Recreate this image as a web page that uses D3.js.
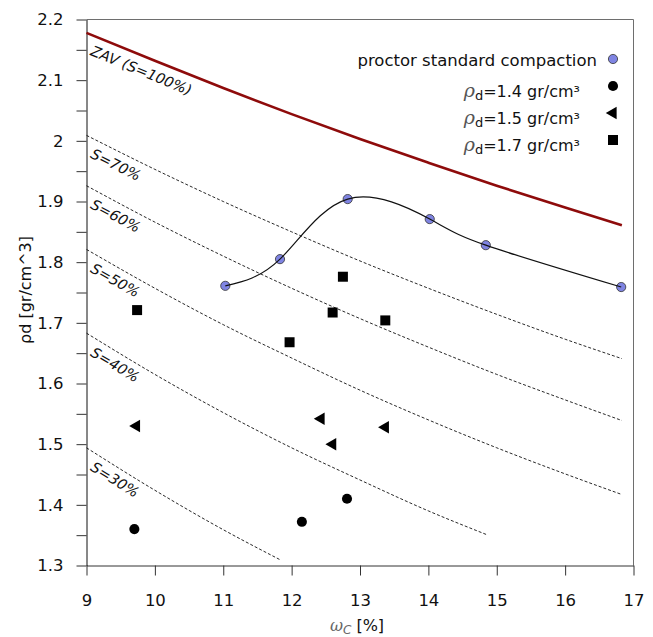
<!DOCTYPE html>
<html>
<head>
<meta charset="utf-8">
<script src="https://cdn.jsdelivr.net/npm/d3@7/dist/d3.min.js"></script>
<style>
  body { margin: 0; background: #fff; }
  svg { display: block; }
</style>
</head>
<body>
<div id="chart"></div>
<script>
// proctor standard compaction
const proctorW = [11.03, 11.83, 12.82, 14.02, 14.84, 16.82];
const proctorRho = [1.761, 1.805, 1.904, 1.871, 1.828, 1.759];

// samples compacted to a target dry density
const rho14W = [9.70, 12.15, 12.81];
const rho14 = [1.360, 1.372, 1.410];
const rho15W = [9.73, 12.43, 12.60, 13.37];
const rho15 = [1.530, 1.542, 1.500, 1.528];
const rho17W = [9.74, 11.97, 12.60, 12.75, 13.37];
const rho17 = [1.721, 1.668, 1.717, 1.776, 1.704];

// saturation lines
const satW = [9, 10, 11, 12, 13, 14, 15, 16, 16.83];
const zavRho = [2.178, 2.132, 2.087, 2.044, 2.003, 1.964, 1.926, 1.890, 1.861];
const s70Rho = [2.009, 1.953, 1.900, 1.850, 1.802, 1.757, 1.714, 1.673, 1.641];
const s60Rho = [1.926, 1.866, 1.810, 1.757, 1.707, 1.660, 1.615, 1.573, 1.539];
const s50Rho = [1.821, 1.757, 1.697, 1.642, 1.589, 1.540, 1.494, 1.451, 1.417];
const s40W = [9, 10, 11, 12, 13, 14, 14.85];
const s40Rho = [1.683, 1.615, 1.552, 1.494, 1.441, 1.390, 1.351];
const s30W = [9, 10, 11, 11.84];
const s30Rho = [1.494, 1.424, 1.359, 1.309];
const satLabels = ['ZAV (S=100%)', 'S=70%', 'S=60%', 'S=50%', 'S=40%', 'S=30%'];

const legendRho = ['1.4', '1.5', '1.7'];
const xTicks = [9, 10, 11, 12, 13, 14, 15, 16, 17];
const yTicks = [1.3, 1.4, 1.5, 1.6, 1.7, 1.8, 1.9, 2.0, 2.1, 2.2];
const yMinorTicks = [1.35, 1.45, 1.55, 1.65, 1.75, 1.85, 1.95, 2.05, 2.15];

const width = 653;
const height = 637;
const font = 'DejaVu Sans, sans-serif';

const x = d3.scaleLinear().domain([9, 17]).range([86.5, 633.5]);
const y = d3.scaleLinear().domain([1.3, 2.2]).range([565.5, 19.5]);

const svg = d3.select('#chart')
  .append('svg')
  .attr('width', width)
  .attr('height', height);

// frame (top, right)
svg.append('path')
  .attr('d', `M${x(9)},${y(2.2)}H${x(17)}V${y(1.3)}`)
  .attr('fill', 'none')
  .attr('stroke', '#6e6e6e')
  .attr('stroke-width', 1);

// axes
svg.append('g')
  .attr('transform', `translate(0,${y(1.3)})`)
  .call(d3.axisBottom(x).tickValues(xTicks).tickSize(10).tickSizeOuter(0).tickPadding(19)
    .tickFormat(d3.format('d')))
  .call(g => g.select('.domain').attr('stroke', '#333'))
  .call(g => g.selectAll('.tick line').attr('stroke', '#333'))
  .call(g => g.selectAll('.tick text')
    .style('font', `16.5px ${font}`)
    .attr('fill', '#111'));

svg.append('g')
  .attr('transform', `translate(${x(9)},0)`)
  .call(d3.axisLeft(y).tickValues(yMinorTicks).tickSize(10).tickSizeOuter(0).tickFormat(''))
  .call(g => g.select('.domain').remove())
  .call(g => g.selectAll('.tick line').attr('stroke', '#333'));

svg.append('g')
  .attr('transform', `translate(${x(9)},0)`)
  .call(d3.axisLeft(y).tickValues(yTicks).tickSize(10).tickSizeOuter(0).tickPadding(13)
    .tickFormat(d3.format('.1~f')))
  .call(g => g.select('.domain').attr('stroke', '#111'))
  .call(g => g.selectAll('.tick line').attr('stroke', '#333'))
  .call(g => g.selectAll('.tick text')
    .style('font', `16.5px ${font}`)
    .attr('fill', '#111'));

// axis titles
const xTitle = svg.append('text')
  .attr('x', 357)
  .attr('y', 631)
  .attr('text-anchor', 'middle')
  .style('font', `16px ${font}`)
  .attr('fill', '#111');
xTitle.append('tspan')
  .attr('font-family', 'DejaVu Serif, serif')
  .attr('font-style', 'italic')
  .attr('fill', '#666')
  .text('ω');
xTitle.append('tspan')
  .attr('font-size', 12)
  .attr('font-style', 'italic')
  .attr('fill', '#666')
  .attr('dy', 3)
  .text('C');
xTitle.append('tspan')
  .attr('dy', -3)
  .text(' [%]');

svg.append('text')
  .attr('transform', 'translate(31,290) rotate(-90)')
  .attr('text-anchor', 'middle')
  .style('font', `16px ${font}`)
  .attr('fill', '#111')
  .text('ρd [gr/cm^3]');

// saturation lines
const satCurves = [
  { label: satLabels[0], w: satW, rho: zavRho },
  { label: satLabels[1], w: satW, rho: s70Rho },
  { label: satLabels[2], w: satW, rho: s60Rho },
  { label: satLabels[3], w: satW, rho: s50Rho },
  { label: satLabels[4], w: s40W, rho: s40Rho },
  { label: satLabels[5], w: s30W, rho: s30Rho }
];

const satLine = d3.line()
  .x(d => x(d[0]))
  .y(d => y(d[1]))
  .curve(d3.curveMonotoneX);

svg.append('g')
  .selectAll('path')
  .data(satCurves)
  .join('path')
  .attr('fill', 'none')
  .attr('stroke', (d, i) => i === 0 ? '#8e0b0b' : '#111')
  .attr('stroke-width', (d, i) => i === 0 ? 2.6 : 0.9)
  .attr('stroke-dasharray', (d, i) => i === 0 ? null : '3,2')
  .attr('d', d => satLine(d3.zip(d.w, d.rho)));

svg.append('g')
  .selectAll('text')
  .data(satCurves)
  .join('text')
  .attr('transform', d => {
    const x0 = x(d.w[0]);
    const y0 = y(d.rho[0]);
    const angle = Math.atan2(y(d.rho[1]) - y0, x(d.w[1]) - x0) * 180 / Math.PI;
    return `translate(${x0 + 3},${y0 + 22}) rotate(${angle})`;
  })
  .style('font', `italic 14.5px ${font}`)
  .attr('fill', '#111')
  .text(d => d.label);

// proctor curve
const proctor = d3.zip(proctorW, proctorRho);

svg.append('g')
  .selectAll('circle')
  .data(proctor)
  .join('circle')
  .attr('cx', d => x(d[0]))
  .attr('cy', d => y(d[1]))
  .attr('r', 4.6)
  .attr('fill', '#7f84e2')
  .attr('stroke', '#333')
  .attr('stroke-width', 0.8);

svg.append('path')
  .attr('fill', 'none')
  .attr('stroke', '#111')
  .attr('stroke-width', 1.2)
  .attr('d', d3.line().x(d => x(d[0])).y(d => y(d[1])).curve(d3.curveNatural)(proctor));

// density samples
const circleSym = d3.symbol(d3.symbolCircle, 80);
const triangleSym = d3.symbol(d3.symbolTriangle, 68);
const squareSym = d3.symbol(d3.symbolSquare, 100);

const samples = [
  { w: rho14W, rho: rho14, sym: circleSym, rot: 0 },
  { w: rho15W, rho: rho15, sym: triangleSym, rot: -90 },
  { w: rho17W, rho: rho17, sym: squareSym, rot: 0 }
];

samples.forEach(s => {
  svg.append('g')
    .selectAll('path')
    .data(d3.zip(s.w, s.rho))
    .join('path')
    .attr('transform', d => `translate(${x(d[0])},${y(d[1])}) rotate(${s.rot})`)
    .attr('d', s.sym)
    .attr('fill', '#000');
});

// legend
const legend = svg.append('g');

legend.append('text')
  .attr('x', 597)
  .attr('y', 66)
  .attr('text-anchor', 'end')
  .style('font', `16.5px ${font}`)
  .attr('fill', '#111')
  .text('proctor standard compaction');

legend.append('circle')
  .attr('cx', 613)
  .attr('cy', 59)
  .attr('r', 4.6)
  .attr('fill', '#7f84e2')
  .attr('stroke', '#333')
  .attr('stroke-width', 0.8);

legendRho.forEach((r, i) => {
  const yy = 96.5 + i * 27;
  const t = legend.append('text')
    .attr('x', 580)
    .attr('y', yy)
    .attr('text-anchor', 'end')
    .style('font', `16px ${font}`)
    .attr('fill', '#111');
  t.append('tspan')
    .attr('font-family', 'DejaVu Serif, serif')
    .attr('font-style', 'italic')
    .attr('font-size', 19)
    .attr('fill', '#555')
    .text('ρ');
  t.append('tspan')
    .attr('font-size', 13)
    .attr('dy', 3)
    .text('d');
  t.append('tspan')
    .attr('dy', -3)
    .text(`=${r} gr/cm³`);

  legend.append('path')
    .attr('transform', `translate(613,${yy - 10.5}) rotate(${samples[i].rot})`)
    .attr('d', samples[i].sym)
    .attr('fill', '#000');
});
</script>
</body>
</html>
